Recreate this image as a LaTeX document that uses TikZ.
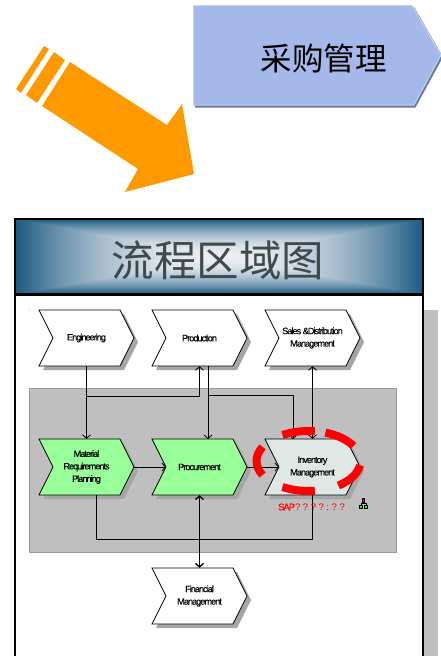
\documentclass[tikz,border=0pt]{standalone}
\usepackage{fontspec}
\usetikzlibrary{arrows.meta}
\newfontfamily\cjk{Noto Sans CJK SC}
\newfontfamily\boxfont[LetterSpace=-11,FakeBold=.25]{Liberation Sans}
\newfontfamily\sapfont[LetterSpace=27]{Liberation Sans}
\pgfdeclarefunctionalshading{headerglow}{\pgfpointorigin}{\pgfpoint{100bp}{100bp}}{}{
50 sub abs 25 div exch 50 sub abs 25 div 2 copy lt {exch} if pop dup mul
dup 0.82 mul 0.92 exch sub exch dup 0.58 mul 0.93 exch sub exch 0.45 mul 0.95 exch sub
}
\definecolor{purchasefill}{HTML}{A4B8EA}
\definecolor{purchaserim}{HTML}{C6D1EE}
\definecolor{purchaseshade}{HTML}{6C7AA0}
\definecolor{arroworange}{HTML}{FF9900}
\definecolor{zonegray}{HTML}{BFBFBF}
\definecolor{functiongreen}{HTML}{99FF99}
\definecolor{focusfill}{HTML}{E0E8E6}
\definecolor{titlegray}{HTML}{3F4A4C}
\tikzset{
  stagetext/.style={minimum width=95pt,minimum height=56pt,inner sep=0pt,align=center,
    font=\boxfont\fontsize{9.2}{12.5}\selectfont},
  flow/.style={draw,line width=.8pt,>={Straight Barb[length=3.5pt,width=8pt]},->},
  link/.style={draw,line width=.8pt},
  ring/.style={red,line width=8pt}
}
% chevron with its shadow: fill, name, x, y, text
\newcommand{\stagebox}[5][white]{
  \fill[black!35] (#3-43.5,#4+32) -- ++(81,0) -- ++(14,-28) -- ++(-14,-28) -- ++(-81,0) -- ++(14,28) -- cycle;
  \filldraw[fill=#1,line width=.8pt] (#3-47.5,#4+28) -- ++(81,0) -- ++(14,-28) -- ++(-14,-28) -- ++(-81,0) -- ++(14,28) -- cycle;
  \node[stagetext] (#2) at (#3,#4) {#5};
}
\begin{document}
\begin{tikzpicture}[x=1pt,y=-1pt]
\useasboundingbox (0,0) rectangle (441,656);
\fill[zonegray] (424,310) rectangle (438,656);
% top tab and arrow
\fill[purchaseshade] (195,107.5) -- (415.5,107.5) -- (443,57) -- (414,7) -- (195,7) -- cycle;
\filldraw[fill=purchasefill,draw=purchaserim,line width=1pt] (193.5,105) -- (414,105) -- (441,55) -- (412,5.5) -- (193.5,5.5) -- cycle;
\node (purchase) at (323.5,58) [font=\cjk\fontsize{31.5}{32}\selectfont] {采购管理};
\fill[arroworange] (70,62) -- (167,125) -- (182,104) -- (194,174) -- (125,192) -- (138,169) -- (42,106) -- cycle;
\fill[arroworange] (54,52) -- (65,60) -- (37,103) -- (26,95) -- cycle;
\fill[arroworange] (44,46) -- (49,49) -- (21,93) -- (16,89) -- cycle;
% frame and title
\shade[shading=headerglow] (15,219) rectangle (423,294);
\node (title) at (218,260) [text=titlegray,font=\cjk\fontsize{42.5}{43}\selectfont] {流程区域图};
\draw[line width=2.5pt] (15,656) -- (15,219) -- (423,219) -- (423,656);
\draw[line width=2.5pt] (15,294.5) -- (423,294.5);
\fill[black!70] (29.5,310) circle (.4);
% zone
\draw[fill=zonegray,draw=black!40] (29,388.5) rectangle (396,552);
% functions
\stagebox{eng}{86.5}{338}{Engineering}
\stagebox{prod}{199.5}{338}{Production}
\stagebox{sales}{312.5}{338}{Sales \&Distribution\\Management}
\stagebox[functiongreen]{mat}{86.5}{467}{Material\\Requirements\\Planning}
\stagebox[functiongreen]{proc}{199.5}{467}{Procurement}
\stagebox[focusfill]{inv}{312.5}{467}{Inventory\\Management}
\stagebox{fin}{199.5}{596}{Financial\\Management}
% connectors
\coordinate (engjoin) at (86.5,396);
\coordinate (prodjoin) at (208,395.5);
\coordinate (prodout) at (208,366);
\coordinate (prodin) at (208,439);
\coordinate (invin) at (293,439);
\coordinate (matout) at (96,495);
\coordinate (procnotch) at (166,467);
\coordinate (invnotch) at (279,467);
\draw[flow] (eng.south) -- (mat.north);
\draw[flow] (engjoin) -| (prod.south);
\draw[flow] (prodout) -- (prodin);
\draw[flow] (prodjoin) -| (invin);
\draw[flow,<->] (sales.south) -- (inv.north);
\draw[flow] (mat.east) -- (procnotch);
\draw[flow] (proc.east) -- (invnotch);
\draw[link] (matout) |- (312.5,539) -- (inv.south);
\draw[flow,<->,line width=1.3pt] (proc.south) -- (fin.north);
% dashed ring
\foreach \from/\to in {83/120,30/71,-55/-8,-120/-83,152/208}
  \draw[ring] (308.5,461) ++(\from:52pt and 30pt) arc[start angle=\from,end angle=\to,x radius=52pt,y radius=30pt];
% sap tag and icon
\node (tag) at (311.5,507) [text=red,font=\fontsize{9.5}{10}\selectfont] {{\boxfont SAP}{\sapfont ????:??}};
\draw[black,line width=.6pt] (361,506) -- (361,503) -- (366,503) -- (366,506) (363.5,498) -- (363.5,503);
\filldraw[fill=magenta,draw=black,line width=.5pt] (362.7,498.5) rectangle (364.3,502);
\filldraw[fill=green,draw=black,line width=.5pt] (359.5,505) rectangle (362.5,508.5) (364.5,505) rectangle (367.5,508.5);
\end{tikzpicture}
\end{document}
